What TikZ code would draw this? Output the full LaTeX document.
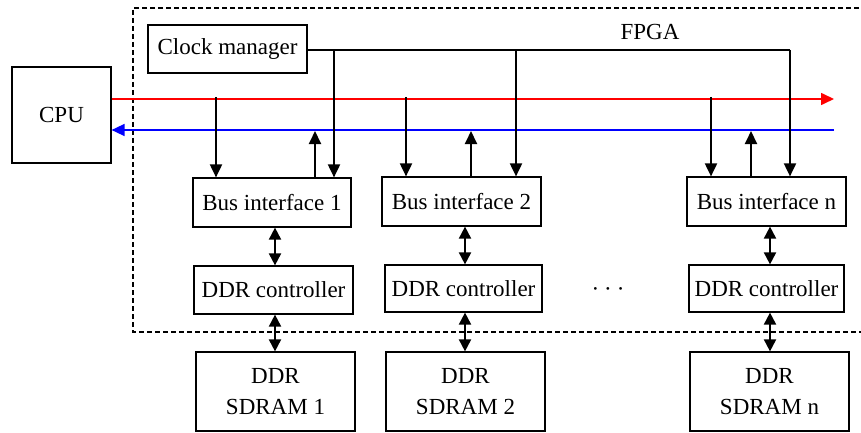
\documentclass[tikz,border=0pt]{standalone}
\usepackage{fontspec}
\setmainfont{Liberation Serif}
\usetikzlibrary{arrows.meta}
\begin{document}
\begin{tikzpicture}[x=1pt,y=-1pt,
  box/.style={draw,line width=1.2pt,inner sep=0pt,align=center,font=\fontsize{23}{31}\selectfont},
  arr/.style={line width=1.9pt,-{Triangle[length=13pt,width=12pt]}},
  darr/.style={line width=1.9pt,{Triangle[length=12pt,width=12pt]}-{Triangle[length=12pt,width=12pt]}},
  bus/.style={line width=1.6pt},
  lbl/.style={font=\fontsize{23}{28}\selectfont,inner sep=0pt}]
\useasboundingbox (0,0) rectangle (861,433);
% FPGA dashed boundary
\draw[line width=1.1pt,dash pattern=on 5pt off 3pt] (875,8) -- (133,8) -- (133,332) -- (875,332);
\node[lbl] (fpga) at (650,32) {FPGA};
% nodes
\node[box,minimum width=99pt,minimum height=96pt] (cpu) at (61.5,115) {CPU};
\node[box,minimum width=159pt,minimum height=48pt] (clk) at (227.5,49) {Clock manager};
\node[box,minimum width=158pt,minimum height=49pt] (bus1) at (272,202.5) {Bus interface 1};
\node[box,minimum width=159pt,minimum height=49pt] (bus2) at (461.5,201.5) {Bus interface 2};
\node[box,minimum width=159pt,minimum height=49pt] (busn) at (766.5,201.5) {Bus interface n};
\node[box,minimum width=159pt,minimum height=48pt] (ddr1) at (273.5,290) {DDR controller};
\node[box,minimum width=157pt,minimum height=47pt] (ddr2) at (463.5,288.5) {DDR controller};
\node[box,minimum width=155pt,minimum height=47pt] (ddrn) at (766.5,288.5) {DDR controller};
\node[box,minimum width=159pt,minimum height=79pt] (sd1) at (275.5,391.5) {DDR\\SDRAM 1};
\node[box,minimum width=159pt,minimum height=79pt] (sd2) at (465.5,391.5) {DDR\\SDRAM 2};
\node[box,minimum width=159pt,minimum height=79pt] (sdn) at (769.5,391.5) {DDR\\SDRAM n};
\node[lbl] (dots) at (608,292) {·\hspace{5pt}·\hspace{5pt}·};
% buses
\coordinate (redR) at (834,99);
\coordinate (blueR) at (834,130);
\draw[bus,red,-{Triangle[length=13pt,width=12pt]}] (cpu.east |- redR) -- (redR);
\draw[bus,blue,-{Triangle[length=13pt,width=12pt]}] (blueR) -- (cpu.east |- blueR);
% clock lines
\coordinate (c1) at (334,50);
\coordinate (c2) at (516,50);
\coordinate (cn) at (790,50);
\draw[line width=1.6pt] (clk.east |- cn) -- (cn);
\draw[arr] (c1) -- (c1 |- bus1.north);
\draw[arr] (c2) -- (c2 |- bus2.north);
\draw[arr] (cn) -- (cn |- busn.north);
% red taps
\coordinate (r1) at (216,97);
\coordinate (r2) at (406,97);
\coordinate (rn) at (711,97);
\draw[arr] (r1) -- (r1 |- bus1.north);
\draw[arr] (r2) -- (r2 |- bus2.north);
\draw[arr] (rn) -- (rn |- busn.north);
% blue taps
\coordinate (b1) at (315,131);
\coordinate (b2) at (471,131);
\coordinate (bn) at (751,131);
\draw[arr] (b1 |- bus1.north) -- (b1);
\draw[arr] (b2 |- bus2.north) -- (b2);
\draw[arr] (bn |- busn.north) -- (bn);
% double arrows
\coordinate (d1) at (275,0);
\coordinate (d2) at (465,0);
\coordinate (dn) at (770,0);
\draw[darr] (d1 |- bus1.south) -- (d1 |- ddr1.north);
\draw[darr] (d2 |- bus2.south) -- (d2 |- ddr2.north);
\draw[darr] (dn |- busn.south) -- (dn |- ddrn.north);
\draw[darr] (d1 |- ddr1.south) -- (d1 |- sd1.north);
\draw[darr] (d2 |- ddr2.south) -- (d2 |- sd2.north);
\draw[darr] (dn |- ddrn.south) -- (dn |- sdn.north);
\end{tikzpicture}
\end{document}
